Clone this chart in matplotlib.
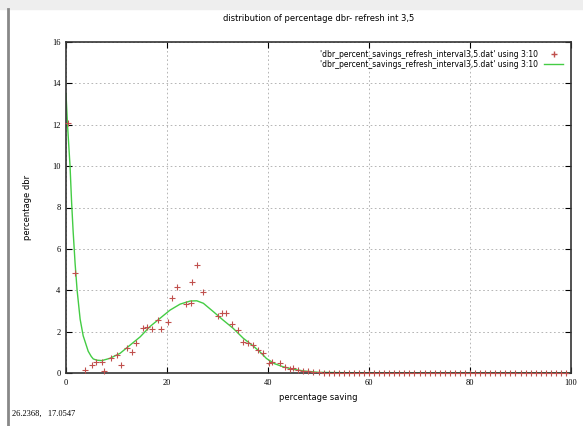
import matplotlib
matplotlib.use("Agg")
import matplotlib.pyplot as plt
from matplotlib.lines import Line2D
from matplotlib.patches import Rectangle

# measured points (percentage saving, percentage dbr)
pts_x = [0.4, 1.8, 3.8, 5.1, 5.9, 7.1, 7.5, 9.0, 10.0, 10.9, 12.0, 13.0, 13.9,
         15.2, 16.0, 17.0, 18.2, 18.8, 20.1, 20.9, 21.9, 23.8, 24.8, 24.9,
         26.0, 27.1, 30.0, 30.8, 31.6, 32.8, 34.1, 35.0, 36.1, 37.0, 38.1,
         39.1, 40.1, 40.7, 42.4, 43.4, 44.3, 45.0, 46.0, 47.0, 48.0, 49.0,
         50.0, 51, 52, 53, 54, 55, 56, 57, 58, 59, 60, 61, 62, 63, 64, 65,
         66, 67, 68, 69, 70, 71, 72, 73, 74, 75, 76, 77, 78, 79, 80, 81, 82,
         83, 84, 85, 86, 87, 88, 89, 90, 91, 92, 93, 94, 95, 96, 97, 98, 99]
pts_y = [12.1, 4.85, 0.15, 0.39, 0.52, 0.55, 0.1, 0.71, 0.87, 0.39, 1.19, 1.03,
         1.43, 2.16, 2.24, 2.11, 2.56, 2.11, 2.48, 3.61, 4.14, 3.33, 3.37,
         4.41, 5.22, 3.9, 2.75, 2.88, 2.91, 2.37, 2.08, 1.51, 1.43, 1.35, 1.11,
         0.95, 0.47, 0.55, 0.47, 0.28, 0.2, 0.23, 0.15, 0.1, 0.08, 0.06,
         0.05] + [0.0] * 49

# fitted curve
fit_x = [0.0, 0.3, 0.8, 1.1, 1.4, 1.8, 2.2, 2.8, 3.4, 4.4, 5.0, 5.4, 6.1, 7.1,
         8.7, 10.7, 12.7, 14.7, 16.6, 18.6, 20.6, 22.6, 24.6, 25.9, 27.2,
         29.2, 31.1, 33.1, 35.1, 37.1, 38.5, 39.7, 41.3, 43.0, 45.0, 47.0,
         50.0, 60.0, 80.0, 100.0]
fit_y = [13.5, 12.0, 10.0, 8.3, 6.9, 5.3, 4.0, 2.6, 1.8, 1.05, 0.8, 0.68,
         0.62, 0.6, 0.71, 0.95, 1.35, 1.75, 2.24, 2.64, 3.04, 3.33, 3.48,
         3.49, 3.37, 2.96, 2.56, 2.16, 1.68, 1.3, 1.0, 0.7, 0.45, 0.3, 0.18,
         0.1, 0.03, 0.0, 0.0, 0.0]

label = "'dbr_percent_savings_refresh_interval3,5.dat' using 3:10"

fig = plt.figure(figsize=(5.83, 4.26), dpi=100)
ax = fig.add_axes([66 / 583, 1 - 373 / 426, 505 / 583, 331 / 426])

ax.plot(pts_x, pts_y, linestyle="none", marker="+", markersize=4,
        markeredgewidth=0.8, color="#c0504d", clip_on=False, zorder=3)
ax.plot(fit_x, fit_y, color="#44cc44", linewidth=1.0, zorder=2)

ax.set_xlim(0, 100)
ax.set_ylim(0, 16)
ax.set_xticks([0, 20, 40, 60, 80, 100])
ax.set_yticks([0, 2, 4, 6, 8, 10, 12, 14, 16])
ax.grid(True, linestyle=(0, (2, 3)), color="#aaaaaa", linewidth=0.6)
ax.tick_params(direction="in", length=4, width=0.8, top=True, right=True,
               labelsize=6, pad=4)
for lab in ax.get_xticklabels() + ax.get_yticklabels():
    lab.set_family("Liberation Serif")
for s in ax.spines.values():
    s.set_linewidth(1.2)
    s.set_color("#333333")

ax.set_title("distribution of percentage dbr- refresh int 3,5", fontsize=6,
             pad=15)
ax.set_xlabel("percentage saving", fontsize=6, labelpad=5)
ax.set_ylabel("percentage dbr", fontsize=6, labelpad=14)

handles = [Line2D([], [], linestyle="none", marker="+", color="#c0504d",
                  markersize=4),
           Line2D([], [], color="#44cc44", linewidth=1.0)]
ax.legend(handles, [label, label], loc="upper right", frameon=False,
          fontsize=5.5, handlelength=2.5, borderaxespad=0.6, labelspacing=0.2,
          markerfirst=False)

# window chrome from the screenshot
fig.patches.append(Rectangle((0, 1 - 9 / 426), 1, 9 / 426,
                             transform=fig.transFigure, color="#eeeeee",
                             zorder=0))
fig.add_artist(Line2D([8 / 583, 8 / 583], [0, 1 - 9 / 426],
                      transform=fig.transFigure, color="#888888",
                      linewidth=2))
fig.text(12 / 583, 1 - 414 / 426, "26.2368,   17.0547", fontsize=6,
         va="center", family="Liberation Serif")

fig.savefig("out.png", dpi=100)
